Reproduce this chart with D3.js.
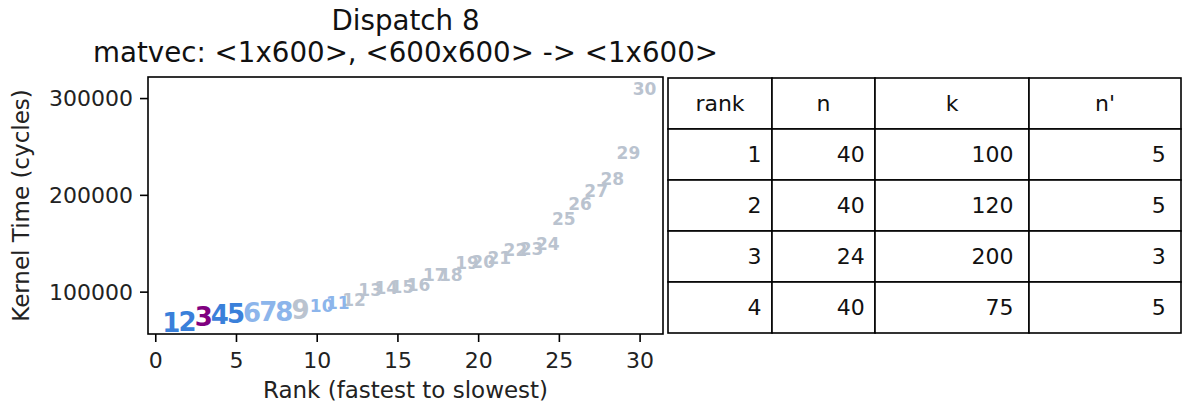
<!DOCTYPE html>
<html>
<head>
<meta charset="utf-8">
<script src="https://cdn.jsdelivr.net/npm/d3@7"></script>
<style>
  html, body { margin: 0; padding: 0; background: #fff; }
  svg { display: block; font-family: "DejaVu Sans", sans-serif; }
</style>
</head>
<body>
<svg id="chart" width="1182" height="409"></svg>
<script>
// ---- data ----
const ranks = d3.range(1, 31);
const kernelTimes = [68300, 68600, 74600, 76100, 77200, 78700, 79300, 79800, 81300, 85000,
                     88600, 91200, 101500, 104100, 104400, 107300, 117000, 117400, 129800, 130300,
                     135000, 143600, 144600, 149800, 174700, 190300, 203800, 216300, 243300, 309700];
const groups = ["top", "top", "chosen", "top", "top", "near", "near", "near", "other", "near",
                "near", "other", "other", "other", "other", "other", "other", "other", "other", "other",
                "other", "other", "other", "other", "other", "other", "other", "other", "other", "other"];
const xTicks = [0, 5, 10, 15, 20, 25, 30];
const yTicks = [100000, 200000, 300000];
const titleLines = ["Dispatch 8", "matvec: <1x600>, <600x600> -> <1x600>"];
const tableColumns = ["rank", "n", "k", "n'"];
const tableRank = [1, 2, 3, 4];
const tableN = [40, 40, 24, 40];
const tableK = [100, 120, 200, 75];
const tableNPrime = [5, 5, 3, 5];

// ---- styles ----
const groupColor = { top: "#3a80da", chosen: "#800080", near: "#8cb5eb", other: "#bac3cf" };
const svg = d3.select("#chart");
const box = { left: 148, right: 663, top: 77, bottom: 334 };
const fontBase = 22;

// ---- scales (matplotlib-like 5% margins) ----
const xPad = (d3.max(ranks) - d3.min(ranks)) * 0.05;
const x = d3.scaleLinear().domain([d3.min(ranks) - xPad, d3.max(ranks) + xPad]).range([box.left, box.right]);
const yMin = d3.min(kernelTimes), yMax = d3.max(kernelTimes);
const yPad = (yMax - yMin) * 0.05;
const y = d3.scaleLinear().domain([yMin - yPad, yMax + yPad]).range([box.bottom, box.top]);

// ---- axes ----
const xAxis = d3.axisBottom(x).tickValues(xTicks).tickSize(8).tickPadding(6).tickFormat(d3.format("d"));
const gx = svg.append("g").attr("transform", `translate(0,${box.bottom})`).call(xAxis);
const yAxis = d3.axisLeft(y).tickValues(yTicks).tickSize(8).tickPadding(7).tickFormat(d3.format("d"));
const gy = svg.append("g").attr("transform", `translate(${box.left},0)`).call(yAxis);
[gx, gy].forEach(g => {
  g.select(".domain").remove();
  g.selectAll(".tick line").attr("stroke", "#000").attr("stroke-width", 1.6);
  g.selectAll(".tick text").attr("fill", "#222").style("font-size", fontBase + "px").style("font-family", "DejaVu Sans");
});
gx.selectAll(".tick text").attr("dy", null).attr("y", 34);
gy.selectAll(".tick text").attr("dy", "0.36em");

// frame
svg.append("rect").attr("x", box.left).attr("y", box.top)
  .attr("width", box.right - box.left).attr("height", box.bottom - box.top)
  .attr("fill", "none").attr("stroke", "#000").attr("stroke-width", 1.6);

// labels
svg.append("text").attr("x", (box.left + box.right) / 2).attr("y", 398)
  .attr("text-anchor", "middle").style("font-size", "23px").attr("fill", "#222")
  .text("Rank (fastest to slowest)");
svg.append("text").attr("transform", `translate(29,${(box.top + box.bottom) / 2}) rotate(-90)`)
  .attr("text-anchor", "middle").style("font-size", "23px").attr("fill", "#222")
  .text("Kernel Time (cycles)");

// title
svg.append("g").selectAll("text").data(titleLines).join("text")
  .attr("x", (box.left + box.right) / 2).attr("y", (d, i) => 30 + i * 32)
  .attr("text-anchor", "middle").style("font-size", "27.7px").attr("fill", "#111")
  .text(d => d);

// ---- rank markers (drawn back to front: slowest first) ----
const pts = ranks.map((r, i) => ({ rank: r, t: kernelTimes[i], g: groups[i] })).reverse();
svg.append("g").selectAll("text").data(pts).join("text")
  .attr("x", d => x(d.rank)).attr("y", d => y(d.t))
  .attr("dx", d => String(d.rank).length > 1 ? 5 : 0)
  .attr("dy", "0.36em")
  .attr("text-anchor", "middle")
  .style("font-size", d => String(d.rank).length > 1 ? "17px" : "26px")
  .style("font-weight", "bold")
  .attr("fill", d => groupColor[d.g])
  .text(d => d.rank);

// ---- table ----
const colEdges = [668, 772, 875, 1029, 1181];
const rowEdges = [78, 129, 180, 231, 282, 333];
const tableRows = tableRank.map((r, i) => [r, tableN[i], tableK[i], tableNPrime[i]]);
const tableG = svg.append("g").style("font-size", fontBase + "px");
const cells = [];
tableColumns.forEach((c, j) => cells.push({ row: 0, col: j, text: c, header: true }));
tableRows.forEach((row, i) => row.forEach((v, j) => cells.push({ row: i + 1, col: j, text: v, header: false })));
tableG.selectAll("rect").data(cells).join("rect")
  .attr("x", d => colEdges[d.col]).attr("y", d => rowEdges[d.row])
  .attr("width", d => colEdges[d.col + 1] - colEdges[d.col])
  .attr("height", d => rowEdges[d.row + 1] - rowEdges[d.row])
  .attr("fill", "#fff").attr("stroke", "#000").attr("stroke-width", 1.6);
tableG.selectAll("text").data(cells).join("text")
  .attr("x", d => {
    const l = colEdges[d.col], r = colEdges[d.col + 1];
    return d.header ? (l + r) / 2 : r - 0.1 * (r - l);
  })
  .attr("y", d => (rowEdges[d.row] + rowEdges[d.row + 1]) / 2)
  .attr("dy", "0.36em")
  .attr("text-anchor", d => d.header ? "middle" : "end")
  .attr("fill", "#111")
  .text(d => d.text);
</script>
</body>
</html>
